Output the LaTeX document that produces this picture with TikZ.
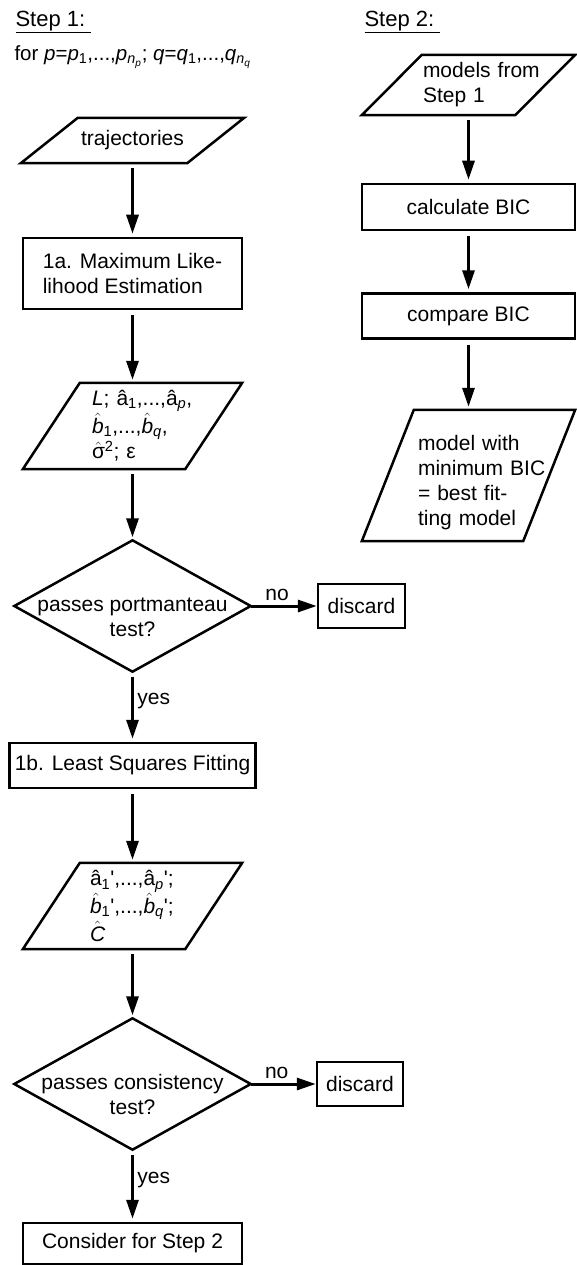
\documentclass[tikz,border=0pt]{standalone}
\usepackage{fontspec}
\setmainfont{Liberation Sans}
\usetikzlibrary{arrows.meta}
\newcommand\lo[1]{\textsubscript{#1}}
\newcommand\pr{\textquotesingle}
\tikzset{
  flow/.style={-{Triangle[length=19pt,width=12pt]}, line width=3pt, shorten <=5pt, shorten >=3pt},
  proc/.style={draw, line width=2.5pt, inner sep=0pt},
  io/.style={inner sep=0pt, align=left},
  decide/.style={inner sep=0pt, minimum width=236pt, minimum height=131pt},
  heading/.style={anchor=west, font=\fontsize{22}{26}\selectfont},
}
\begin{document}
\begin{tikzpicture}[x=1pt, y=-1pt, font=\fontsize{21}{25}\selectfont]
\useasboundingbox (0,0) rectangle (576,1265);
\node[heading] (step1) at (12,22) {\underline{Step 1:\ }};
\node[heading] (step2) at (361,22) {\underline{Step 2:\ }};
\node[anchor=west, font=\fontsize{20.5}{24}\selectfont] (loop) at (11,57)
  {for \textit{p}=\textit{p}\lo{1},...,\textit{p}\lo{\textit{n}\lo{\textit{p}}}; \textit{q}=\textit{q}\lo{1},...,\textit{q}\lo{\textit{n}\lo{\textit{q}}}};

\node[io, align=center, minimum width=223pt, minimum height=45pt] (traj) at (132.5,140.5) {trajectories};
\node[proc, align=left, minimum width=219pt, minimum height=71pt] (mle) at (132.5,273.5) {1a. Maximum Like-\\lihood Estimation};
\node[io, minimum width=219pt, minimum height=86pt, text width=81pt] (est) at (132.5,426)
  {\textit{L};~â\lo{1},...,â\lo{\textit{p}},\\
   $\hat{\mathit{b}}$\lo{1},...,$\hat{\mathit{b}}$\lo{\textit{q}},\\
   $\hat{\mbox{σ}}$\textsuperscript{2};~ε};
\node[decide] (port) at (132.5,606)
  {\raisebox{0pt}[12pt][2pt]{\begin{tabular}[t]{@{}c@{}}passes portmanteau\\test?\end{tabular}}};
\node[proc, minimum width=87pt, minimum height=44pt] (drop1) at (361.5,606) {discard};
\node[proc, minimum width=246pt, minimum height=45pt] (lsq) at (132.5,765.5) {1b. Least Squares Fitting};
\node[io, minimum width=219pt, minimum height=86pt, text width=85pt] (fit) at (132.5,906)
  {â\lo{1}\pr,...,â\lo{\textit{p}}\pr;\\
   $\hat{\mathit{b}}$\lo{1}\pr,...,$\hat{\mathit{b}}$\lo{\textit{q}}\pr;\\
   $\hat{\mathit{C}}$};
\node[decide] (cons) at (132.5,1084)
  {\raisebox{0pt}[12pt][2pt]{\begin{tabular}[t]{@{}c@{}}passes consistency\\test?\end{tabular}}};
\node[proc, minimum width=86pt, minimum height=44pt] (drop2) at (360,1084) {discard};
\node[proc, minimum width=219pt, minimum height=41pt] (next) at (132.5,1243.5) {Consider for Step 2};

\node[io, minimum width=213pt, minimum height=60pt, text width=91pt] (mods) at (468.5,85) {models~from\\Step 1};
\node[proc, minimum width=213pt, minimum height=46pt] (bic) at (468.5,207) {calculate BIC};
\node[proc, minimum width=213pt, minimum height=45pt] (cmp) at (468.5,316) {compare BIC};
\node[io, minimum width=213pt, minimum height=131pt, text width=101pt] (best) at (468.5,475.5)
  {\rule{0pt}{30pt}model~with\\minimum~BIC\\=~best~fit-\\ting~model};

\foreach \n/\s in {traj/57pt, est/57pt, fit/57pt, mods/60pt, best/52pt}
  \draw[line width=2.5pt] ([xshift=\s]\n.north west) -- (\n.north east)
    -- ([xshift=-\s]\n.south east) -- (\n.south west) -- cycle;
\foreach \n in {port, cons}
  \draw[line width=2.5pt] (\n.north) -- (\n.east) -- (\n.south) -- (\n.west) -- cycle;

\draw[flow] (traj) -- (mle);
\draw[flow] (mle) -- (est);
\draw[flow] (est) -- (port);
\draw[flow, shorten <=0pt, shorten >=0pt] (port) -- node[above, pos=0.4]{no} (drop1);
\draw[flow] (port) -- node[right, pos=0.42]{yes} (lsq);
\draw[flow] (lsq) -- (fit);
\draw[flow] (fit) -- (cons);
\draw[flow, shorten <=0pt, shorten >=0pt] (cons) -- node[above, pos=0.4]{no} (drop2);
\draw[flow] (cons) -- node[right, pos=0.42]{yes} (next);
\draw[flow] (mods) -- (bic);
\draw[flow] (bic) -- (cmp);
\draw[flow] (cmp) -- (best);
\end{tikzpicture}
\end{document}
